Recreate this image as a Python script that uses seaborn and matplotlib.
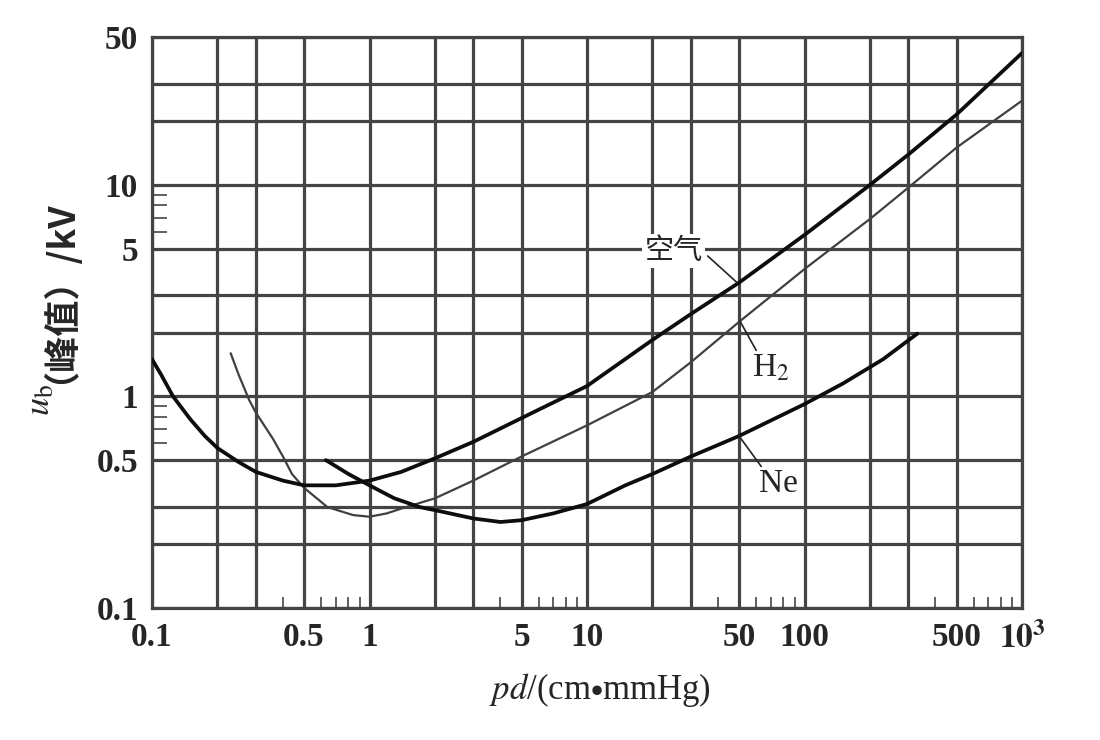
import matplotlib
matplotlib.use("Agg")
import numpy as np
import pandas as pd
import seaborn as sns
import matplotlib.pyplot as plt
from matplotlib.ticker import FixedLocator, FixedFormatter, NullFormatter

# ---------------- data ----------------
air_pd = [0.1, 0.11, 0.125, 0.15, 0.175, 0.2, 0.25, 0.3, 0.4, 0.5, 0.7, 1.0,
          1.4, 2, 3, 5, 10, 20, 30, 50, 100, 200, 300, 500, 1000]
air_ub = [1.5, 1.27, 1.0, 0.78, 0.65, 0.57, 0.49, 0.44, 0.40, 0.38, 0.38, 0.40,
          0.44, 0.51, 0.61, 0.79, 1.12, 1.85, 2.45, 3.45, 5.8, 10, 13.9, 21.5, 42]

h2_pd = [0.23, 0.25, 0.28, 0.3, 0.36, 0.4, 0.44, 0.5, 0.64, 0.84, 1.0, 1.2, 1.4,
         2, 3, 5, 10, 20, 30, 50, 100, 200, 300, 500, 1000]
h2_ub = [1.6, 1.27, 0.96, 0.84, 0.63, 0.52, 0.43, 0.37, 0.30, 0.275, 0.27, 0.28,
         0.295, 0.33, 0.40, 0.52, 0.73, 1.05, 1.45, 2.25, 4.0, 6.9, 9.7, 15, 25]

ne_pd = [0.63, 0.8, 1.0, 1.3, 1.7, 2, 3, 4, 5, 7, 10, 15, 20, 30, 50, 100, 150,
         230, 330]
ne_ub = [0.50, 0.43, 0.38, 0.33, 0.30, 0.29, 0.265, 0.255, 0.26, 0.28, 0.31,
         0.38, 0.43, 0.52, 0.65, 0.92, 1.15, 1.5, 1.98]

curve_names = ["空气", "H$_2$", "Ne"]

x_grid = [0.2, 0.3, 0.5, 1, 2, 3, 5, 10, 20, 30, 50, 100, 200, 300, 500]
x_labels = ["", "", "0.5", "1", "", "", "5", "10", "", "", "50", "100", "", "", "500"]
x_end_labels = ["0.1", r"$\mathbf{10}^{\mathbf{3}}$"]
y_grid = [0.2, 0.3, 0.5, 1, 2, 3, 5, 10, 20, 30]
y_labels = ["", "", "0.5", "1", "", "", "5", "10", "", ""]
y_end_labels = ["0.1", "50"]
x_minor = [0.4, 0.6, 0.7, 0.8, 0.9, 4, 6, 7, 8, 9, 40, 60, 70, 80, 90,
           400, 600, 700, 800, 900]
y_minor = [0.6, 0.7, 0.8, 0.9, 6, 7, 8, 9]

# ---------------- style ----------------
sns.set_style("white")
plt.rcParams["font.family"] = ["Liberation Serif", "Noto Sans CJK SC", "DejaVu Sans"]
plt.rcParams["mathtext.fontset"] = "stix"

GRID = "#444444"
fig = plt.figure(figsize=(11, 7.4), dpi=100)
W, H = 1100, 740
L, R, T, B = 152, 1022, 37, 608
ax = fig.add_axes([L / W, 1 - B / H, (R - L) / W, (B - T) / H])

df_air = pd.DataFrame({"pd": air_pd, "ub": air_ub})
df_h2 = pd.DataFrame({"pd": h2_pd, "ub": h2_ub})
df_ne = pd.DataFrame({"pd": ne_pd, "ub": ne_ub})

sns.lineplot(data=df_air, x="pd", y="ub", ax=ax, color="#0d0d0d", lw=2.7,
             estimator=None, sort=False, zorder=5)
sns.lineplot(data=df_h2, x="pd", y="ub", ax=ax, color="#404040", lw=1.6,
             estimator=None, sort=False, zorder=4)
sns.lineplot(data=df_ne, x="pd", y="ub", ax=ax, color="#0d0d0d", lw=2.7,
             estimator=None, sort=False, zorder=5)

ax.set_xscale("log")
ax.set_yscale("log")
ax.set_xlim(0.1, 1000)
ax.set_ylim(0.1, 50)

all_xt = [0.1] + x_grid + [1000]
all_xl = [x_end_labels[0]] + x_labels + [x_end_labels[1]]
all_yt = [0.1] + y_grid + [50]
all_yl = [y_end_labels[0]] + y_labels + [y_end_labels[1]]
ax.xaxis.set_major_locator(FixedLocator(all_xt))
ax.xaxis.set_major_formatter(FixedFormatter(all_xl))
ax.yaxis.set_major_locator(FixedLocator(all_yt))
ax.yaxis.set_major_formatter(FixedFormatter(all_yl))
ax.xaxis.set_minor_locator(FixedLocator(x_minor))
ax.yaxis.set_minor_locator(FixedLocator(y_minor))
ax.xaxis.set_minor_formatter(NullFormatter())
ax.yaxis.set_minor_formatter(NullFormatter())

ax.grid(True, which="major", color=GRID, lw=2.3)
ax.set_axisbelow(True)
for s in ax.spines.values():
    s.set_color(GRID)
    s.set_linewidth(2.3)

ax.tick_params(which="major", length=0, labelsize=24, pad=10)
ax.tick_params(axis="x", which="minor", direction="in", length=8, width=1.2,
               color=GRID, bottom=True)
ax.tick_params(axis="y", which="minor", direction="in", length=11, width=1.2,
               color=GRID, left=True)
for lab in ax.get_xticklabels() + ax.get_yticklabels():
    lab.set_fontweight("bold")

ax.set_xlabel("")
ax.set_ylabel("")

# ---------------- curve labels with leader lines ----------------
ax.annotate(curve_names[0], xy=(49, 3.45), xytext=(34, 4.85), fontsize=21,
            family=["Noto Sans CJK SC"], ha="right", va="center", zorder=6,
            bbox=dict(facecolor="white", edgecolor="none", pad=1.5),
            arrowprops=dict(arrowstyle="-", color="#222", lw=1.2,
                            relpos=(1.0, 0.5), shrinkA=3, shrinkB=0))
ax.annotate(curve_names[1], xy=(50.5, 2.27), xytext=(70, 1.36), fontsize=24,
            ha="center", va="center", zorder=6,
            bbox=dict(facecolor="white", edgecolor="none", pad=1),
            arrowprops=dict(arrowstyle="-", color="#222", lw=1.2,
                            relpos=(0.15, 1.0), shrinkA=1, shrinkB=0))
ax.annotate(curve_names[2], xy=(50, 0.65), xytext=(76, 0.385), fontsize=24,
            ha="center", va="center", zorder=6,
            bbox=dict(facecolor="white", edgecolor="none", pad=1),
            arrowprops=dict(arrowstyle="-", color="#222", lw=1.2,
                            relpos=(0.1, 1.0), shrinkA=1, shrinkB=0))

# ---------------- axis titles ----------------
fig.text(600 / W, 1 - 690 / H, r"$pd$/(cm$\bullet$mmHg)", fontsize=25,
         ha="center", va="center")
t1 = fig.text(41 / W, 1 - 416 / H, r"$u_{\mathrm{b}}$", fontsize=26,
              rotation=90, ha="center", va="bottom")
ax.annotate("（峰值）/kV", xy=(0.5, 1.0), xycoords=t1, xytext=(0, 0),
            textcoords="offset points", rotation=90, ha="center", va="bottom",
            fontsize=26, fontweight="bold", annotation_clip=False,
            family=["Noto Sans CJK SC", "DejaVu Sans"])

fig.savefig("out.png", dpi=100)
